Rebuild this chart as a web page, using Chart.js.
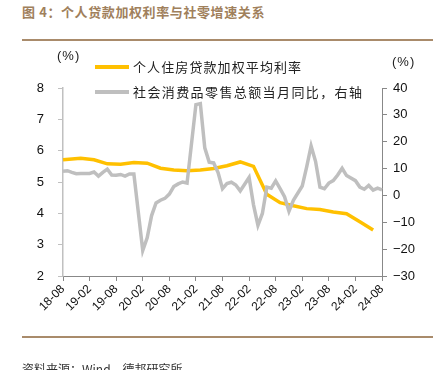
<!DOCTYPE html>
<html>
<head>
<meta charset="utf-8">
<script src="https://cdn.jsdelivr.net/npm/chart.js@4.4.1/dist/chart.umd.min.js"></script>
<style>
  html, body { margin: 0; padding: 0; background: #fff; }
  body { width: 439px; height: 370px; position: relative; overflow: hidden;
         font-family: "Noto Sans CJK SC", "Liberation Sans", sans-serif; }
  #wrap { position: absolute; left: 0; top: 0; width: 439px; height: 370px; }
  .abs { position: absolute; white-space: nowrap; }
  #title { left: 22px; top: 2px; font-size: 13px; font-weight: bold; color: #a0805c; letter-spacing: 0.6px; }
  .rule { position: absolute; left: 22px; width: 411px; height: 2px; background: #a98b6b; }
  .unit { font-family: "Liberation Sans", sans-serif; font-size: 13px; color: #222; letter-spacing: 1px; }
  .lg-line { position: absolute; left: 95px; width: 34px; height: 4px; }
  .lg-text { left: 133px; font-size: 13px; color: #222; line-height: 16px; }
  #source { left: 22px; top: 360px; font-size: 12px; color: #333; }
</style>
</head>
<body>
<div id="title" class="abs">图 4：个人贷款加权利率与社零增速关系</div>
<div class="rule" style="top:39px"></div>

<div id="wrap"><canvas id="chart" width="439" height="370"></canvas></div>

<div class="abs unit" style="left:57px; top:48px">(%)</div>
<div class="abs unit" style="left:392px; top:54px">(%)</div>

<div class="lg-line" style="top:65px; background:#FFC000"></div>
<div class="abs lg-text" style="top:59px; letter-spacing:1.1px">个人住房贷款加权平均利率</div>
<div class="lg-line" style="top:90px; background:#BFBFBF"></div>
<div class="abs lg-text" style="top:84px; letter-spacing:1.4px">社会消费品零售总额当月同比，右轴</div>

<div class="rule" style="top:336px"></div>
<div id="source" class="abs">资料来源：Wind，德邦研究所</div>

<script>
// ── Datos ──────────────────────────────────────────────────────────────
// meses 2018-08 .. 2024-08
const months = [];
for (let y = 2018, m = 8; y < 2024 || (y === 2024 && m <= 8); ) {
  months.push(String(y).slice(2) + '-' + String(m).padStart(2, '0'));
  m++; if (m > 12) { m = 1; y++; }
}

// 个人住房贷款加权平均利率 (%), trimestral
const rateMonths = ['18-08','18-12','19-03','19-06','19-09','19-12','20-03','20-06','20-09','20-12',
                    '21-03','21-06','21-09','21-12','22-03','22-06','22-09','22-12','23-03','23-06',
                    '23-09','23-12','24-03','24-06'];
const rateValues = [5.71, 5.76, 5.71, 5.58, 5.57, 5.62, 5.60, 5.44, 5.38, 5.36,
                    5.38, 5.43, 5.52, 5.64, 5.50, 4.61, 4.34, 4.24, 4.15, 4.12,
                    4.04, 3.99, 3.73, 3.47];

// 社会消费品零售总额当月同比 (%), mensual, enero sin dato
const retailValues = [
  9.0, 9.2, 8.6, 8.1, 8.2,
  null, 8.2, 8.7, 7.2, 8.6, 9.8, 7.6, 7.5, 7.8, 7.2, 8.0, 8.0,
  null, -20.5, -15.8, -7.5, -2.8, -1.8, -1.1, 0.5, 3.3, 4.3, 5.0, 4.6,
  null, 33.8, 34.2, 17.7, 12.4, 12.1, 8.5, 2.5, 4.4, 4.9, 3.9, 1.7,
  null, 6.7, -3.5, -11.1, -6.7, 3.1, 2.7, 5.4, 2.5, -0.5, -5.9, -1.8,
  null, 3.5, 10.6, 18.4, 12.7, 3.1, 2.5, 4.6, 5.5, 7.6, 10.1, 7.4,
  null, 5.5, 3.1, 2.3, 3.7, 2.0, 2.7, 2.1
];

const xTickLabels = ['18-08','19-02','19-08','20-02','20-08','21-02','21-08','22-02','22-08','23-02','23-08','24-02','24-08'];

const rateSeries = months.map(m => {
  const i = rateMonths.indexOf(m);
  return i >= 0 ? rateValues[i] : null;
});

// ── Chart ──────────────────────────────────────────────────────────────
const tickFont = { family: '"Liberation Sans", Arial, sans-serif', size: 12 };

new Chart(document.getElementById('chart').getContext('2d'), {
  type: 'line',
  data: {
    labels: months,
    datasets: [
      { label: '个人住房贷款加权平均利率', data: rateSeries, yAxisID: 'yL',
        borderColor: '#FFC000', borderWidth: 3.5, pointRadius: 0, tension: 0, spanGaps: true, order: 2 },
      { label: '社会消费品零售总额当月同比，右轴', data: retailValues, yAxisID: 'yR',
        borderColor: '#BFBFBF', borderWidth: 3.5, pointRadius: 0, tension: 0, spanGaps: true, order: 1 }
    ]
  },
  options: {
    responsive: false, animation: false,
    layout: { padding: { left: 0, right: 0, top: 88, bottom: 0 } },
    plugins: { legend: { display: false }, tooltip: { enabled: false } },
    scales: {
      x: {
        offset: false,
        grid: { drawOnChartArea: false, drawTicks: true, tickLength: 5, color: '#888' },
        border: { color: '#888', width: 1 },
        ticks: {
          autoSkip: false, maxRotation: 45, minRotation: 45, padding: 1,
          color: '#111', font: tickFont,
          callback: (v, i) => xTickLabels.includes(months[i]) ? months[i] : null
        },
        afterFit: s => { s.height = 94; }
      },
      yL: {
        position: 'left', min: 2, max: 8,
        grid: { drawOnChartArea: false, tickLength: 5, color: '#c0c0c0' },
        border: { color: '#c0c0c0', width: 1.5 },
        ticks: { stepSize: 1, padding: 14, color: '#111', font: { ...tickFont, size: 13 } },
        afterFit: s => { s.width = 63; }
      },
      yR: {
        position: 'right', min: -30, max: 40,
        grid: { drawOnChartArea: false, tickLength: 5, color: '#888' },
        border: { color: '#888', width: 1 },
        ticks: { stepSize: 10, padding: 6, color: '#111', font: { ...tickFont, size: 13 },
                 callback: v => String(v).replace('-', '−') },
        afterFit: s => { s.width = 57; }
      }
    }
  }
});
</script>
</body>
</html>
